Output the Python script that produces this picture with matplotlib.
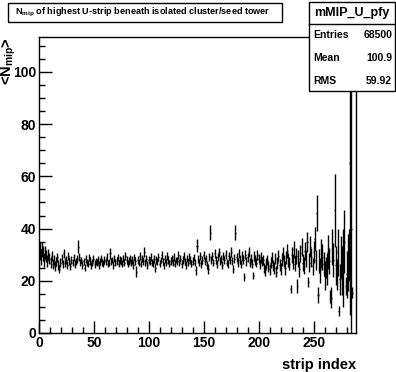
import numpy as np
import matplotlib.pyplot as plt
from matplotlib.patches import Rectangle
from matplotlib.ticker import MultipleLocator

plt.rcParams['font.family'] = ['Liberation Sans', 'DejaVu Sans']
plt.rcParams['font.weight'] = 'bold'
plt.rcParams['mathtext.fontset'] = 'custom'
plt.rcParams['mathtext.rm'] = 'Liberation Sans:bold'
plt.rcParams['mathtext.it'] = 'Liberation Sans:bold'
plt.rcParams['mathtext.bf'] = 'Liberation Sans:bold'

# mean N_mip per strip (profile), NaN = empty bin
mean_nmip = [
    31.5, 29.0, 32.0, 30.5, 28.0, 31.0, 29.5, 27.5, 30.0, 28.5, 27.0, 29.5,
    26.5, 28.0, 25.5, 27.5, 29.0, 26.0, 24.5, 27.0, 28.5, 26.5, 30.5, 27.0,
    28.0, 26.0, 29.5, 27.5, 25.5, 28.0, 27.0, 29.0, 26.5, 27.5, 28.5, 33.0,
    29.0, 27.0, 28.0, 26.0, 27.5, 25.0, 28.5, 27.0, 26.5, 29.0, 27.5, 26.0,
    27.0, 28.5, 26.5, 27.5, 27.0, 28.0, 26.0, 27.5, 28.5, 27.0, 26.5, 28.0,
    27.5, 29.0, 26.5, 27.0, 30.5, 27.5, 28.0, 26.0, 28.5, 27.0, 27.5, 29.0,
    26.5, 28.0, 27.5, 26.5, 28.5, 27.0, 29.5, 28.0, 26.5, 27.5, 28.5, 27.0,
    28.0, 26.0, 29.0, 27.5, 23.5, 28.0, 27.0, 29.5, 26.5, 28.5, 27.5, 31.0,
    27.0, 28.5, 26.0, 28.0, 27.5, 29.0, 27.0, 26.5, 28.5, 25.0, 28.0, 27.5,
    29.0, 26.5, 28.0, 30.0, 27.5, 26.0, 28.5, 27.0, 29.5, 28.0, 26.5, 27.5,
    28.5, 27.0, 29.0, 26.5, 28.0, 27.5, 30.0, 27.0, 28.5, 26.5, 28.0, 29.5,
    27.5, 26.0, 28.5, 27.0, 29.0, 28.0, 26.5, 27.5, 29.0, 27.0, 24.0, 33.5,
    28.5, 27.0, 29.5, 26.5, 28.0, 30.0, 27.5, 28.5, 26.0, 24.5, 29.0, 38.5,
    28.0, 29.5, 27.0, 30.5, 28.0, 26.5, 29.0, 31.0, 27.5, 28.5, 26.0, 29.5,
    28.0, 30.0, 27.0, 26.5, 29.5, 28.0, 31.0, 27.5, 24.5, 28.5, 38.5, 29.0,
    27.0, 30.5, 28.0, 26.5, 29.5, 28.0, 21.5, 30.0, 27.5, 29.0, 31.0, 27.0,
    28.5, 26.5, 22.0, 29.5, 28.0, 27.0, 30.0, 28.5, 26.5, 29.0, 27.5, 28.0,
    25.0, 24.0, 26.5, 28.0, 25.5, 24.5, 27.0, 29.0, 26.0, 25.0, 28.5, 23.5,
    27.0, 29.5, 26.0, 24.5, 28.0, 30.5, 27.5, 25.0, 29.0, 31.5, 28.0, 26.5,
    17.0, 30.0, 27.5, 32.0, 26.5, 29.5, 18.0, 28.5, 24.5, 30.5, 33.0, 27.0,
    26.0, 31.5, 28.5, 35.0, 19.5, 27.0, 33.0, 29.0, 25.5, 31.0, 36.0, 28.0,
    46.0, 14.5, 27.5, 24.0, 30.5, 29.0, 26.5, 22.0, 25.0, 24.5, 31.0, 27.5,
    14.0, 13.5, 33.0, 28.0, 47.0, 26.0, 22.5, 31.0, 8.5, 20.5, 29.0, 24.0,
    25.0, 35.0, 18.0, 22.5, 27.0, 30.0, 65.0, 40.0, 15.5, np.nan, np.nan, np.nan,
]

err_nmip = [
    3.5, 3.0, 3.0, 2.8, 2.6, 2.5, 2.4, 2.3, 2.2, 2.2, 2.1, 2.0,
    2.0, 1.9, 1.9, 1.8, 1.8, 1.8, 1.7, 1.7, 1.7, 1.6, 1.6, 1.6,
    1.6, 1.5, 1.5, 1.5, 1.4, 1.5, 1.5, 1.4, 1.5, 1.4, 1.5, 2.5,
    1.5, 1.4, 1.3, 1.5, 1.4, 1.3, 1.5, 1.4, 1.3, 1.4, 1.5, 1.3,
    1.4, 1.3, 1.5, 1.4, 1.3, 1.4, 1.5, 1.3, 1.4, 1.5, 1.3, 1.4,
    1.3, 1.5, 1.4, 1.3, 2.0, 1.4, 1.3, 1.5, 1.4, 1.3, 1.5, 1.4,
    1.3, 1.4, 1.5, 1.3, 1.4, 1.3, 1.5, 1.4, 1.3, 1.5, 1.4, 1.3,
    1.5, 1.4, 1.3, 1.5, 2.0, 1.4, 1.3, 1.5, 1.4, 1.3, 1.5, 2.0,
    1.4, 1.3, 1.5, 1.4, 1.3, 1.5, 1.4, 1.3, 1.5, 1.8, 1.4, 1.3,
    1.5, 1.4, 1.3, 1.5, 1.4, 1.3, 1.5, 1.4, 1.6, 1.4, 1.3, 1.5,
    1.4, 1.3, 1.5, 1.4, 1.3, 1.5, 1.6, 1.4, 1.3, 1.5, 1.4, 1.6,
    1.4, 1.5, 1.3, 1.4, 1.5, 1.4, 1.3, 1.5, 1.4, 1.3, 1.8, 2.5,
    1.5, 1.4, 1.6, 1.5, 1.4, 1.6, 1.5, 1.4, 1.6, 1.8, 1.5, 3.0,
    1.5, 1.6, 1.5, 1.7, 1.5, 1.6, 1.5, 1.7, 1.6, 1.5, 1.6, 1.7,
    1.6, 1.7, 1.5, 1.6, 1.7, 1.6, 1.8, 1.6, 1.7, 1.6, 3.0, 1.7,
    1.6, 1.8, 1.7, 1.6, 1.8, 1.7, 1.6, 1.8, 1.7, 1.8, 1.9, 1.7,
    1.8, 1.7, 1.5, 1.9, 1.8, 1.7, 1.9, 1.8, 1.9, 2.0, 1.8, 1.9,
    2.0, 2.0, 2.1, 2.0, 2.2, 2.1, 2.0, 2.2, 2.1, 2.3, 2.2, 2.1,
    2.3, 2.4, 2.2, 2.3, 2.5, 2.4, 2.3, 2.6, 2.5, 2.7, 2.6, 2.5,
    1.5, 3.0, 2.8, 3.2, 2.9, 3.0, 2.5, 3.2, 3.0, 3.4, 3.5, 3.1,
    3.3, 3.5, 3.2, 3.8, 2.0, 3.5, 4.0, 3.6, 3.4, 4.2, 4.5, 3.8,
    7.0, 3.0, 4.5, 4.8, 5.5, 5.0, 4.6, 5.5, 4.0, 6.0, 6.5, 5.0,
    2.5, 4.0, 7.0, 6.5, 14.0, 7.5, 6.0, 9.0, 2.0, 6.0, 8.0, 9.5,
    15.0, 12.0, 3.5, 9.0, 11.0, 10.0, 58.0, 80.0, 2.0, 0.0, 0.0, 0.0,
]

strip_index = np.arange(len(mean_nmip)) + 0.5

title_text = r'N$_{\rm mip}$ of highest U-strip beneath isolated cluster/seed tower'
stats_name = 'mMIP_U_pfy'
stats_rows = [('Entries', '68500'), ('Mean', '100.9'), ('RMS', '59.92')]

W, H = 396, 372
fig = plt.figure(figsize=(W / 100, H / 100), dpi=100)
ax = fig.add_axes([39 / W, 1 - 333 / H, (356 - 39) / W, (333 - 37) / H])

ax.errorbar(strip_index, mean_nmip, xerr=0.5, yerr=err_nmip, fmt='none',
            ecolor='black', elinewidth=1.0, capsize=0)

ax.set_xlim(0, 288)
ax.set_ylim(0, 113.4)
ax.xaxis.set_major_locator(MultipleLocator(50))
ax.xaxis.set_minor_locator(MultipleLocator(10))
ax.yaxis.set_major_locator(MultipleLocator(20))
ax.yaxis.set_minor_locator(MultipleLocator(5))
ax.tick_params(which='both', direction='in', top=False, right=False,
               labelsize=10, width=1, pad=2)
ax.tick_params(which='major', length=9)
ax.tick_params(which='minor', length=4.5)
for sp in ax.spines.values():
    sp.set_linewidth(1)

ax.set_xlabel('strip index', fontsize=10.5, fontweight='bold', loc='right')
ax.xaxis.set_label_coords(1.0, -0.085)
ax.set_ylabel('<N$_{\\rm mip}$>', fontsize=10.5, fontweight='bold', loc='top')
ax.yaxis.set_label_coords(-0.066, 1.0)

# title box
fig.patches.append(Rectangle((8 / W, 1 - 22 / H), (282 - 8) / W, 19 / H,
                             transform=fig.transFigure, fill=True, facecolor='white',
                             edgecolor='black', linewidth=1))
fig.text(143 / W, 1 - 12.5 / H, title_text, ha='center', va='center', fontsize=6.6,
         fontweight='bold')

# stats box
fig.patches.append(Rectangle((309 / W, 1 - 91 / H), (395 - 309) / W, 89 / H,
                             transform=fig.transFigure, facecolor='white',
                             edgecolor='black', linewidth=1, zorder=5))
fig.lines.append(plt.Line2D([309 / W, 395 / W], [1 - 24 / H, 1 - 24 / H],
                            transform=fig.transFigure, color='black', linewidth=1, zorder=6))
fig.text(352 / W, 1 - 13 / H, stats_name, ha='center', va='center', fontsize=9,
         fontweight='bold', zorder=7)
for i, (k, v) in enumerate(stats_rows):
    y = 1 - (35 + 23 * i) / H
    fig.text(313 / W, y, k, ha='left', va='center', fontsize=7.5, fontweight='bold', zorder=7)
    fig.text(392 / W, y, v, ha='right', va='center', fontsize=7.5, fontweight='bold', zorder=7)

fig.savefig('out.png', dpi=100)
